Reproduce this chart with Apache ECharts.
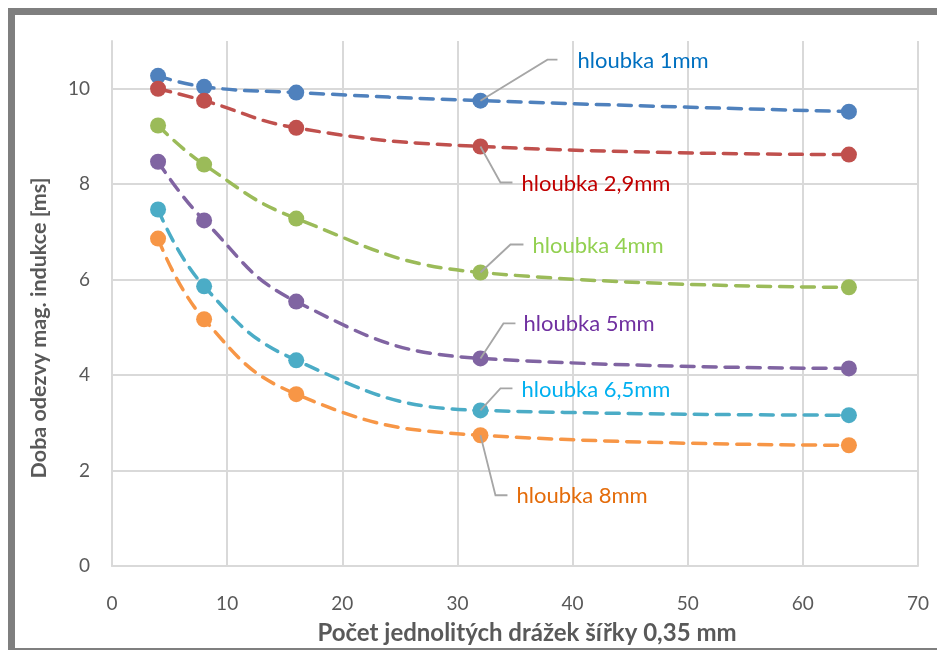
<!DOCTYPE html>
<html>
<head>
<meta charset="utf-8">
<script src="https://cdn.jsdelivr.net/npm/echarts@6/dist/echarts.min.js"></script>
<style>
html,body{margin:0;padding:0;background:#fff;}
#c{width:937px;height:650px;}
</style>
</head>
<body>
<div id="c"></div>
<script>
// ---- data ----
const xValues = [4, 8, 16, 32, 64];
const seriesNames = ['hloubka 1mm', 'hloubka 2,9mm', 'hloubka 4mm', 'hloubka 5mm', 'hloubka 6,5mm', 'hloubka 8mm'];
const depth1 = [10.27, 10.04, 9.92, 9.75, 9.52];
const depth29 = [10.00, 9.75, 9.18, 8.79, 8.62];
const depth4 = [9.23, 8.41, 7.28, 6.15, 5.84];
const depth5 = [8.47, 7.24, 5.54, 4.35, 4.14];
const depth65 = [7.47, 5.86, 4.31, 3.26, 3.16];
const depth8 = [6.86, 5.17, 3.60, 2.74, 2.53];
const xTicks = [0, 10, 20, 30, 40, 50, 60, 70];
const yTicks = [0, 2, 4, 6, 8, 10];
const xTitle = 'Počet jednolitých drážek šířky 0,35 mm';
const yTitle = 'Doba odezvy mag. indukce [ms]';
const labelIndex = 3; // labels attached to x = 32

// ---- styles ----
const allValues = [depth1, depth29, depth4, depth5, depth65, depth8];
const markColors = ['#4F81BD', '#C0504D', '#9BBB59', '#8064A2', '#4BACC6', '#F79646'];
const textColors = ['#0070C0', '#C00000', '#92D050', '#7030A0', '#00B0F0', '#E46C0A'];
// leader geometry offsets (pixels from the point): elbow dx,dy ; end dx ; text dx
const leaders = [
  {ex: 67, ey: -41, hx: 77, tx: 97},
  {ex: 20, ey: 36, hx: 32, tx: 41},
  {ex: 30, ey: -28, hx: 43, tx: 52},
  {ex: 23, ey: -35, hx: 35, tx: 43},
  {ex: 20, ey: -22, hx: 32, tx: 41},
  {ex: 15, ey: 60, hx: 27, tx: 36}
];
const FONT = 'Lato, "Open Sans", sans-serif';
const GRID = '#D9D9D9';

const chart = echarts.init(document.getElementById('c'), null, {renderer: 'canvas'});

const series = allValues.map((vals, i) => ({
  name: seriesNames[i],
  type: 'line',
  data: xValues.map((x, j) => [x, vals[j]]),
  smooth: 0.45,
  symbol: 'circle',
  symbolSize: 16,
  itemStyle: {color: markColors[i]},
  lineStyle: {color: markColors[i], width: 3.5, type: [13, 9], cap: 'round'},
  z: 3
}));

chart.setOption({
  animation: false,
  backgroundColor: '#fff',
  grid: {left: 112, right: 19, top: 41, bottom: 84},
  xAxis: {
    type: 'value', min: xTicks[0], max: xTicks[xTicks.length - 1], interval: 10,
    axisLine: {show: true, lineStyle: {color: GRID, width: 2}},
    axisTick: {show: false},
    splitLine: {show: true, lineStyle: {color: GRID, width: 2}},
    axisLabel: {color: '#595959', fontFamily: FONT, fontSize: 19, margin: 28}
  },
  yAxis: {
    type: 'value', min: 0, max: 11, interval: 1,
    axisLine: {show: true, lineStyle: {color: GRID, width: 2}},
    axisTick: {show: false},
    splitLine: {show: true, lineStyle: {color: [GRID, 'rgba(0,0,0,0)'], width: 2}},
    axisLabel: {
      color: '#595959', fontFamily: FONT, fontSize: 19, margin: 22,
      formatter: v => (yTicks.indexOf(v) >= 0 ? String(v) : '')
    }
  },
  series: series,
  graphic: []
});

function drawAnnotations() {
  const g = [];
  g.push({type: 'rect', z: 100, silent: true,
    shape: {x: 11.5, y: 11.5, width: 940, height: 640},
    style: {fill: 'none', stroke: '#7F7F7F', lineWidth: 7}});
  g.push({type: 'text', z: 100, x: 527, y: 633,
    style: {text: xTitle, fill: '#595959', font: 'bold 24px ' + FONT, textAlign: 'center', textVerticalAlign: 'middle'}});
  g.push({type: 'text', z: 100, x: 39, y: 328, rotation: Math.PI / 2,
    style: {text: yTitle, fill: '#595959', font: 'bold 21.5px ' + FONT, textAlign: 'center', textVerticalAlign: 'middle'}});
  allValues.forEach((vals, i) => {
    const p = chart.convertToPixel({gridIndex: 0}, [xValues[labelIndex], vals[labelIndex]]);
    const L = leaders[i];
    g.push({type: 'polyline', z: 50, silent: true,
      shape: {points: [[p[0], p[1]], [p[0] + L.ex, p[1] + L.ey], [p[0] + L.hx, p[1] + L.ey]]},
      style: {stroke: '#A6A6A6', lineWidth: 1.8, fill: 'none'}});
    g.push({type: 'text', z: 50, x: p[0] + L.tx, y: p[1] + L.ey + 1,
      style: {text: seriesNames[i], fill: textColors[i], font: '22px ' + FONT, textAlign: 'left', textVerticalAlign: 'middle'}});
  });
  chart.setOption({graphic: g});
}
drawAnnotations();
</script>
</body>
</html>
